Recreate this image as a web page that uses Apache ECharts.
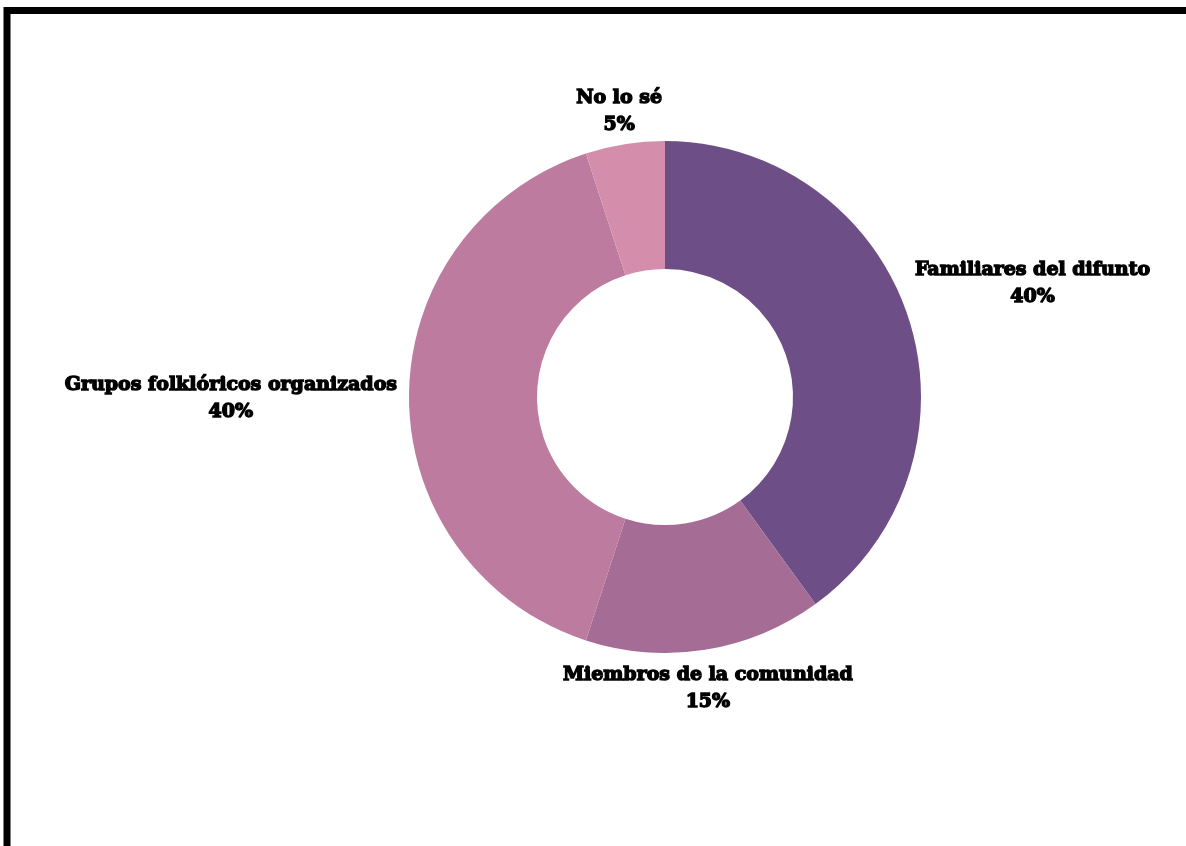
<!DOCTYPE html>
<html>
<head>
<meta charset="utf-8">
<script src="https://cdn.jsdelivr.net/npm/echarts@6/dist/echarts.min.js"></script>
<style>
html,body{margin:0;padding:0;background:#fff;}
#chart{width:1186px;height:846px;}
</style>
</head>
<body>
<div id="chart"></div>
<script>
const categories = ['Familiares del difunto', 'Miembros de la comunidad', 'Grupos folklóricos organizados', 'No lo sé'];
const values = [40, 15, 40, 5];
const colors = ['#6e4e86', '#a56c96', '#bd7ba0', '#d48eab'];

// label nudges (dx, dy) relative to the default outside label placement
const labelShift = [[-10, -31], [-149, 27], [5, 2], [44, -21]];

const chart = echarts.init(document.getElementById('chart'), null, {renderer: 'canvas'});
const labelFont = {
  fontFamily: '"DejaVu Serif", serif',
  fontWeight: 'bold',
  fontSize: 19,
  lineHeight: 27,
  color: '#000',
  textBorderColor: '#000',
  textBorderWidth: 1.4,
  align: 'center'
};
chart.setOption({
  backgroundColor: '#fff',
  animation: false,
  graphic: [{
    type: 'rect',
    shape: {x: 7, y: 10.5, width: 1400, height: 1000},
    style: {fill: 'none', stroke: '#000', lineWidth: 7},
    silent: true,
    z: 100
  }],
  series: [{
    type: 'pie',
    center: [665, 397],
    radius: [128, 256],
    startAngle: 90,
    clockwise: true,
    avoidLabelOverlap: false,
    data: categories.map((c, i) => ({name: c, value: values[i], itemStyle: {color: colors[i]}})),
    label: {
      show: true,
      position: 'outside',
      formatter: p => '{n|' + p.name + '}\n{n|' + p.value + '%}',
      rich: {n: labelFont}
    },
    labelLine: {show: false, length: 12, length2: 0},
    labelLayout: p => ({dx: labelShift[p.dataIndex][0], dy: labelShift[p.dataIndex][1]})
  }]
});
</script>
</body>
</html>
